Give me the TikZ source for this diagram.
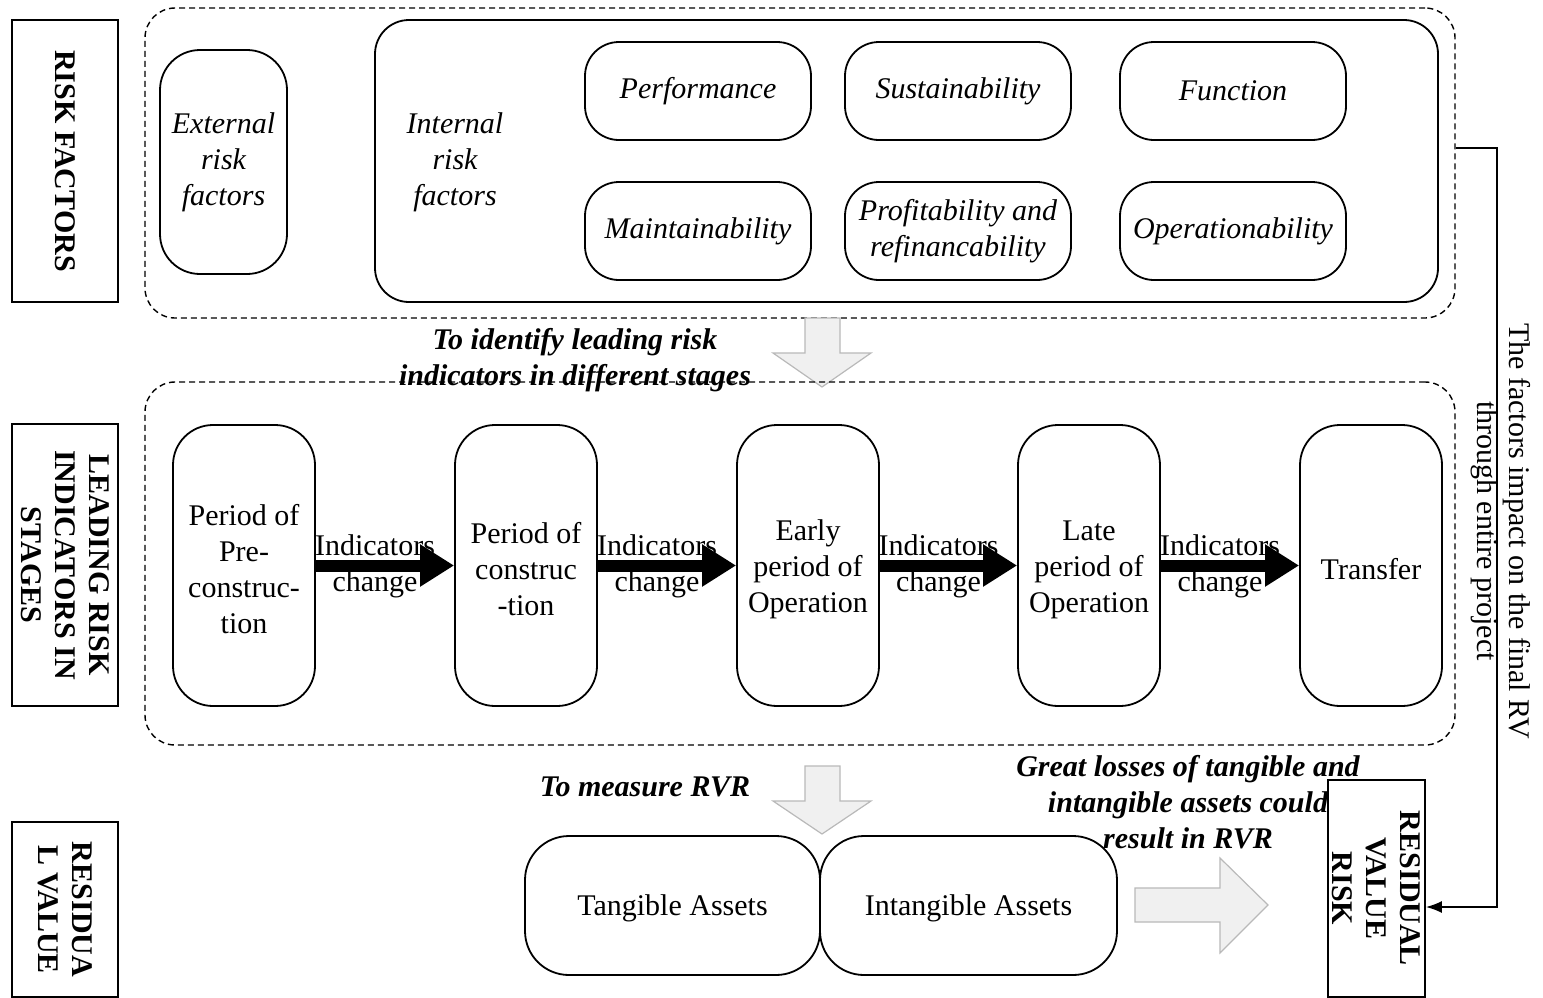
\documentclass[tikz,border=0pt]{standalone}
\usepackage{fontspec}
\setmainfont{Liberation Serif}
\usetikzlibrary{arrows.meta,calc}
\begin{document}
\begin{tikzpicture}[x=0.5pt,y=-0.5pt,
  every node/.style={font=\fontsize{15}{18}\selectfont, align=center, inner sep=0pt},
  labelbox/.style={draw, line width=0.9pt, rotate=-90, font=\fontsize{15}{17}\selectfont\bfseries},
  groupbox/.style={draw, dash pattern=on 3pt off 2pt, line width=0.7pt, rounded corners=15pt},
  bigbox/.style={draw, line width=0.9pt, rounded corners=17pt},
  factorbox/.style={draw, line width=0.9pt, rounded corners=17pt, minimum width=113pt, minimum height=49pt, font=\fontsize{15}{18}\selectfont\itshape},
  stagebox/.style={draw, line width=0.9pt, rounded corners=20pt, minimum width=71pt, minimum height=140.5pt},
  stagetext/.style={font=\fontsize{15}{18}\selectfont},
  assetbox/.style={draw, line width=0.9pt, rounded corners=22pt, minimum height=69.5pt},
  changearrow/.style={line width=6pt, -{Triangle[length=17pt,width=20pt]}},
  blockarrow/.style={fill=gray!12, draw=gray!55, line width=0.6pt},
  boldlabel/.style={font=\fontsize{15}{18}\selectfont\bfseries\itshape},
  link/.style={line width=0.8pt, -{Latex[length=8pt,width=6pt]}}
]
\useasboundingbox (0,0) rectangle (1543,997);

% left label boxes
\node[labelbox, minimum width=141pt, minimum height=53pt] (rf) at (65,161) {RISK FACTORS};
\node[labelbox, minimum width=141pt, minimum height=53pt] (lris) at (65,565) {LEADING RISK\\INDICATORS IN\\STAGES};
\node[labelbox, minimum width=87.5pt, minimum height=53pt] (rv) at (65,909.5) {RESIDUA\\L VALUE};

% group 1: risk factors
\node[groupbox, minimum width=655pt, minimum height=155pt] (g1) at (800,163) {};
\node[bigbox, minimum width=63.5pt, minimum height=112pt, rounded corners=20pt, font=\fontsize{15}{18}\selectfont\itshape] (ext) at (223.5,162) {External\\risk\\factors};
\node[bigbox, minimum width=531.5pt, minimum height=141pt] (int) at (906.5,161) {};
\node[font=\fontsize{15}{18}\selectfont\itshape] (intlab) at (455,162) {Internal\\risk\\factors};
\node[factorbox] (perf) at (698,91) {Performance};
\node[factorbox] (sust) at (958,91) {Sustainability};
\node[factorbox] (func) at (1233,91) {Function};
\node[factorbox] (main) at (698,231) {Maintainability};
\node[factorbox] (prof) at (958,231) {Profitability and\\refinancability};
\node[factorbox] (oper) at (1233,231) {Operationability};

% arrow 1
\filldraw[blockarrow] (805,318) -- (840,318) -- (840,353) -- (871,353) -- (822,387) -- (773,353) -- (805,353) -- cycle;
\node[boldlabel] (lab1) at (575,360) {To identify leading risk\\indicators in different stages};

% group 2: stages
\node[groupbox, minimum width=655pt, minimum height=181.5pt] (g2) at (800,563.5) {};
\node[stagebox] (s1) at (244,565.5) {};
\node[stagebox] (s2) at (526,565.5) {};
\node[stagebox] (s3) at (808,565.5) {};
\node[stagebox] (s4) at (1089,565.5) {};
\node[stagebox] (s5) at (1371,565.5) {};
\node[stagetext] (t1) at ($(s1.center)+(0,4)$) {Period of\\Pre-\\construc-\\tion};
\node[stagetext] (t2) at ($(s2.center)+(0,4)$) {Period of\\construc\\-tion};
\node[stagetext] (t3) at ($(s3.center)+(0,4)$) {Early\\period of\\Operation};
\node[stagetext] (t4) at ($(s4.center)+(0,4)$) {Late\\period of\\Operation};
\node[stagetext] (t5) at ($(s5.center)+(0,4)$) {Transfer};
\foreach \a/\b in {s1/s2,s2/s3,s3/s4,s4/s5}{
  \draw[changearrow] (\a.east) -- (\b.west);
  \node (c\a) at ($(\a.east)!0.5!(\b.west)+(-10,1)$) {Indicators\\change};
}

% arrow 2
\filldraw[blockarrow] (805,766) -- (840,766) -- (840,801) -- (871,801) -- (822,834) -- (773,801) -- (805,801) -- cycle;
\node[boldlabel] (lab2) at (645,787) {To measure RVR};

% residual value
\node[assetbox, minimum width=147.5pt] (tang) at (672.5,905.5) {};
\node[assetbox, minimum width=148.5pt] (intang) at (968.5,905.5) {};
\node (tangt) at ($(tang.center)+(0,3)$) {Tangible Assets};
\node (intangt) at ($(intang.center)+(0,3)$) {Intangible Assets};
\filldraw[blockarrow] (1135,888) -- (1220,888) -- (1220,858) -- (1268,905) -- (1220,953) -- (1220,922) -- (1135,922) -- cycle;
\node[boldlabel] (lab3) at (1188,802) {Great losses of tangible and\\intangible assets could\\result in RVR};
\node[labelbox, minimum width=108.5pt, minimum height=48.5pt] (rvr) at (1376.5,888.5) {RESIDUAL\\VALUE\\RISK};

% overall connector
\coordinate (k1) at (1497,148);
\coordinate (k2) at (1497,907);
\draw[link] (g1.east |- k1) -- (k1) -- (k2) -- (k2 -| rvr.north);
\node[rotate=-90, font=\fontsize{15}{16}\selectfont] (rvnote) at (1501,531) {The factors impact on the final RV\\through entire project};
\end{tikzpicture}
\end{document}
